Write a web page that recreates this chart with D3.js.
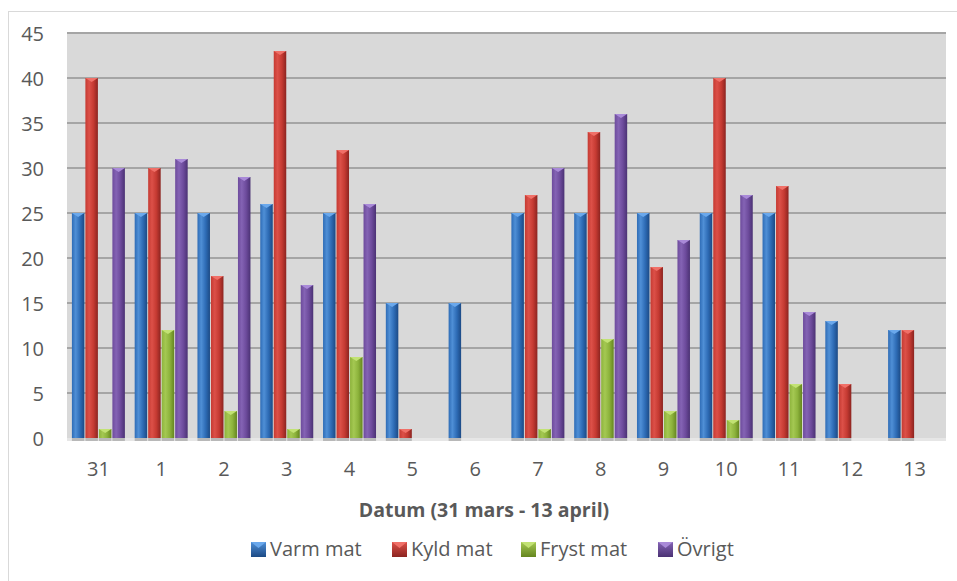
<!DOCTYPE html>
<html><head><meta charset="utf-8">
<script src="https://cdn.jsdelivr.net/npm/d3@7"></script>
<style>body{margin:0;background:#fff}svg{display:block}text{font-family:"Open Sans",sans-serif;fill:#595959}</style>
</head><body>
<svg id="c" width="957" height="581"></svg>
<script>
const categories = ["31","1","2","3","4","5","6","7","8","9","10","11","12","13"];
const seriesNames = ["Varm mat","Kyld mat","Fryst mat","Övrigt"];
const varmMat  = [25,25,25,26,25,15,15,25,25,25,25,25,13,12];
const kyldMat  = [40,30,18,43,32,1,0,27,34,19,40,28,6,12];
const frystMat = [1,12,3,1,9,0,0,1,11,3,2,6,0,0];
const ovrigt   = [30,31,29,17,26,0,0,30,36,22,27,14,0,0];
const yTicks = [0,5,10,15,20,25,30,35,40,45];
const xTitle = "Datum (31 mars - 13 april)";
const colors = [
  {mid:"#2e6cb6", light:"#4f8fd6", dark:"#1c4a85", cap:"#6aa8ec"},
  {mid:"#c53a32", light:"#dc5048", dark:"#8c2420", cap:"#f07068"},
  {mid:"#8db33c", light:"#a4c852", dark:"#65861f", cap:"#c2e274"},
  {mid:"#6d4b9c", light:"#8463b4", dark:"#4b3274", cap:"#a98ad8"}
];
const values = [varmMat, kyldMat, frystMat, ovrigt];

const svg = d3.select("#c");
const L=67, R=946, T=33, B=438;

svg.append("rect").attr("x",8.5).attr("y",11.5).attr("width",970).attr("height",600)
  .attr("fill","#fff").attr("stroke","#d9d9d9");

const defs = svg.append("defs");
colors.forEach((c,i)=>{
  const g = defs.append("linearGradient").attr("id","g"+i).attr("x1","0").attr("x2","1").attr("y1","0").attr("y2","0");
  g.append("stop").attr("offset","0%").attr("stop-color",c.mid);
  g.append("stop").attr("offset","30%").attr("stop-color",c.light);
  g.append("stop").attr("offset","65%").attr("stop-color",c.mid);
  g.append("stop").attr("offset","100%").attr("stop-color",c.dark);
  const v = defs.append("linearGradient").attr("id","v"+i).attr("x1","0").attr("x2","0").attr("y1","0").attr("y2","1");
  v.append("stop").attr("offset","0%").attr("stop-color",c.light);
  v.append("stop").attr("offset","100%").attr("stop-color",c.dark);
});

const y = d3.scaleLinear().domain([0,45]).range([B,T]);
const x0 = d3.scaleBand().domain(categories).range([L,R]).paddingInner(0.156).paddingOuter(0.078);
const x1 = d3.scaleBand().domain(seriesNames).range([0,x0.bandwidth()]).paddingInner(0.074).paddingOuter(0);

svg.append("rect").attr("x",L).attr("y",T).attr("width",R-L).attr("height",B-T).attr("fill","#d9d9d9");

svg.append("g").selectAll("line").data(yTicks.filter(d=>d>0)).join("line")
  .attr("x1",L).attr("x2",R).attr("y1",d=>y(d)).attr("y2",d=>y(d))
  .attr("stroke","#a5a5a5").attr("stroke-width",2);
svg.append("rect").attr("x",L).attr("y",B).attr("width",R-L).attr("height",3).attr("fill","#e6e6e6");

const data = [];
categories.forEach((c,ci)=>seriesNames.forEach((s,si)=>data.push({c,s,si,v:values[si][ci]})));
const bw = x1.bandwidth();
const bg = svg.append("g");
const bars = data.filter(d=>d.v>0);
bg.selectAll("rect.base").data(bars).join("rect").attr("class","base")
  .attr("x",d=>x0(d.c)+x1(d.s)).attr("y",B).attr("width",bw).attr("height",3).attr("fill","#b8b8b8");
bg.selectAll("rect.bar").data(bars).join("rect").attr("class","bar")
  .attr("x",d=>x0(d.c)+x1(d.s)).attr("y",d=>y(d.v)).attr("width",bw).attr("height",d=>B-y(d.v))
  .attr("fill",d=>"url(#g"+d.si+")");
bg.selectAll("path.cap").data(bars).join("path").attr("class","cap")
  .attr("d",d=>{const xl=x0(d.c)+x1(d.s), yt=y(d.v); return `M${xl},${yt}L${xl+bw},${yt}L${xl+bw/2},${yt+4}Z`;})
  .attr("fill",d=>colors[d.si].cap);

const yAxis = d3.axisLeft(y).tickValues(yTicks).tickSize(0).tickPadding(0);
const ya = svg.append("g").attr("transform",`translate(44,0)`).call(yAxis);
ya.select(".domain").remove();
ya.selectAll("text").attr("font-size",20).attr("fill","#595959").attr("dy","0.35em").style("font-family","'Open Sans',sans-serif");

const xAxis = d3.axisBottom(x0).tickSize(0).tickPadding(0);
const xa = svg.append("g").attr("transform",`translate(0,462)`).call(xAxis);
xa.select(".domain").remove();
xa.selectAll("text").attr("font-size",20).attr("fill","#595959").attr("dy","0.71em").style("font-family","'Open Sans',sans-serif");

svg.append("text").attr("x",484).attr("y",517).attr("text-anchor","middle")
  .attr("font-size",19.5).attr("font-weight","bold").text(xTitle);

const legX = [251,392,521,658];
const lg = svg.append("g");
seriesNames.forEach((s,i)=>{
  const g = lg.append("g").attr("transform",`translate(${legX[i]},542)`);
  g.append("rect").attr("width",15).attr("height",15).attr("fill","url(#v"+i+")");
  g.append("path").attr("d","M0,0L15,0L7.5,6Z").attr("fill",colors[i].cap);
  g.append("text").attr("x",19).attr("y",14).attr("font-size",20).text(s);
});
</script>
</body></html>
